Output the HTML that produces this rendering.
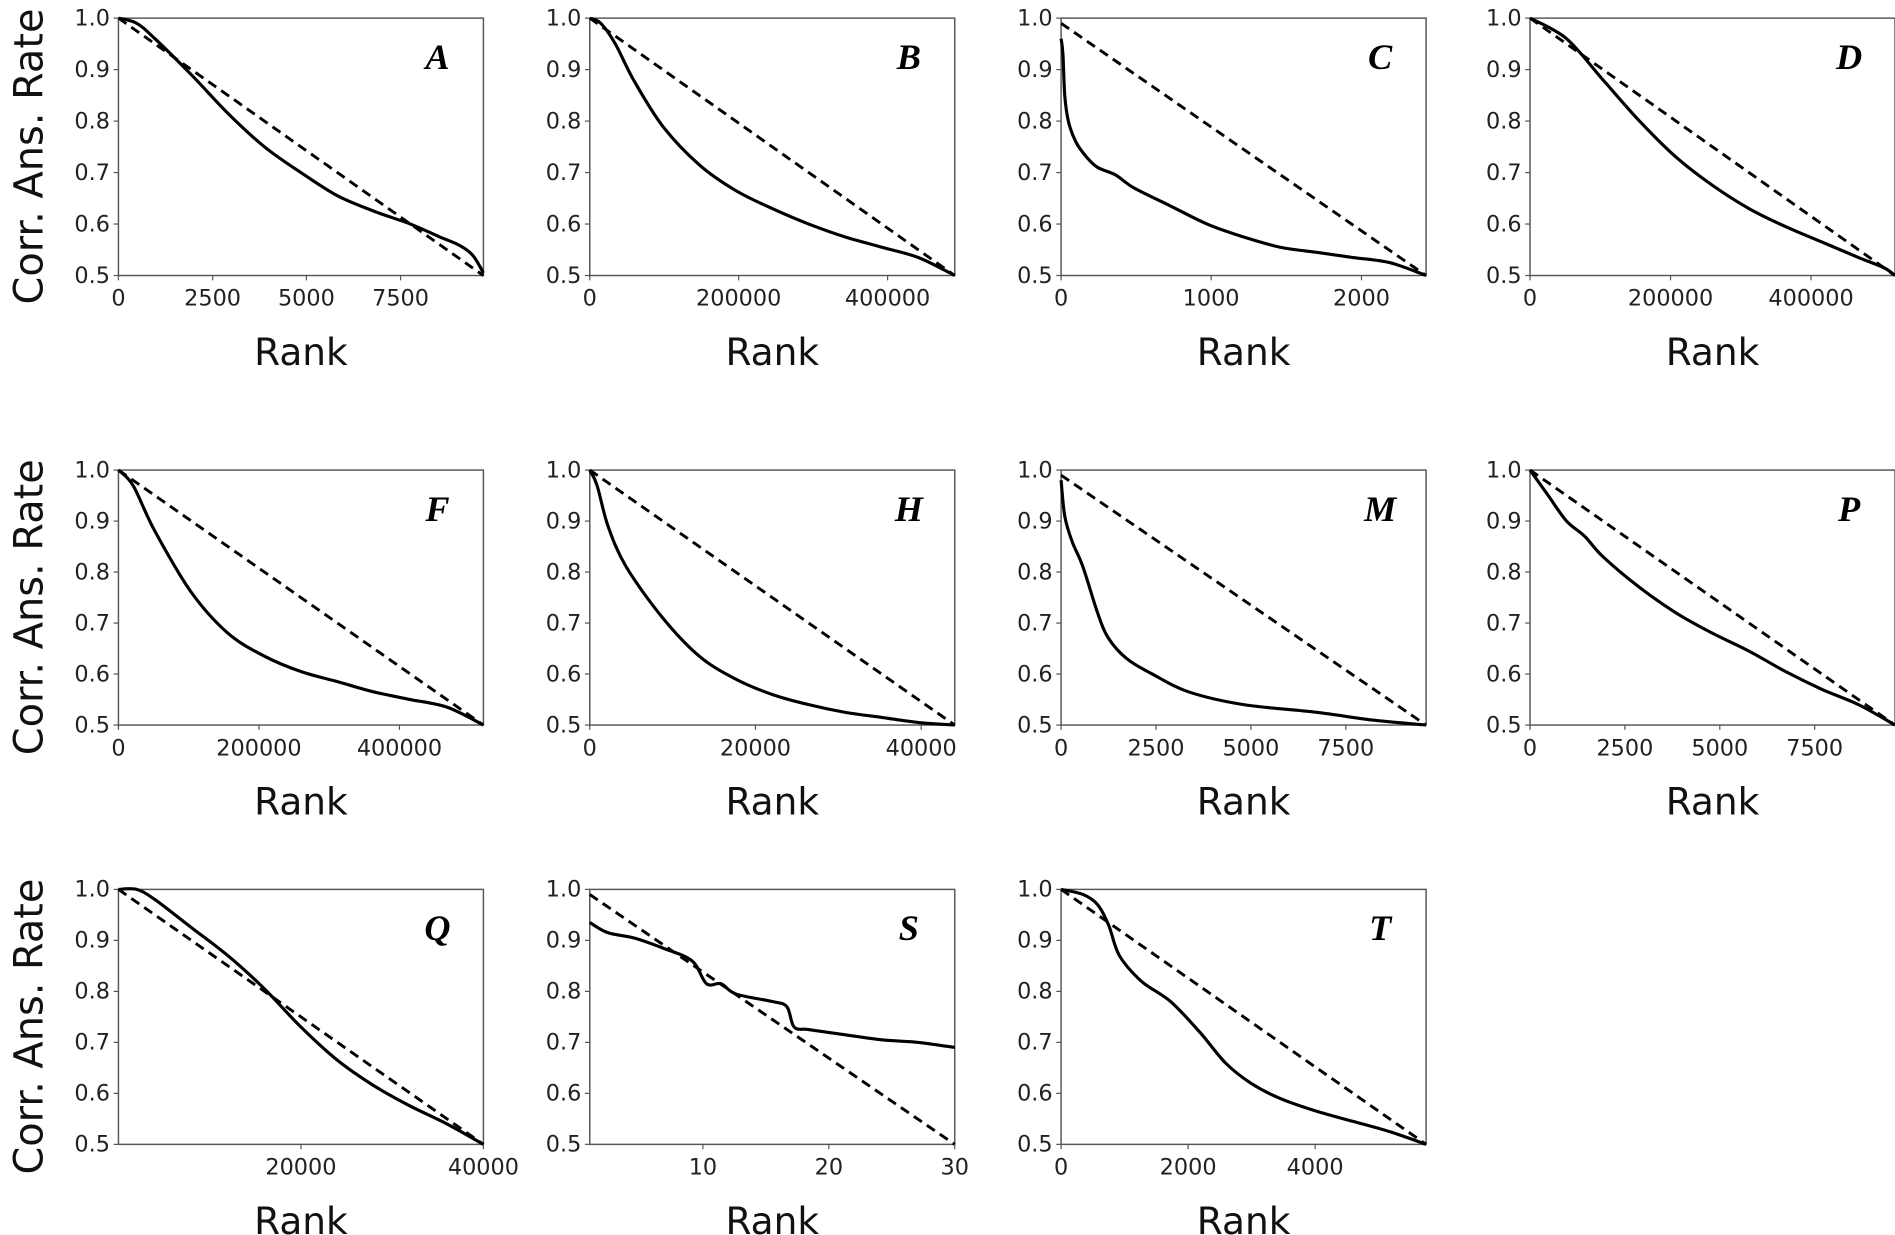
<!DOCTYPE html>
<html><head><meta charset="utf-8"><style>html,body{margin:0;padding:0;background:#fff}svg{display:block}</style></head>
<body>
<svg id="s" width="1895" height="1235" viewBox="0 0 1568 1022" preserveAspectRatio="none" xmlns="http://www.w3.org/2000/svg"></svg>
<script>
const S=document.getElementById('s');let h='';
const cols=[98,488,878,1266],W=302,rows=[[15,228],[389,600],[736,947]];
const P=[
{r:0,c:0,L:'A',t:[[0,'0'],[.258,'2500'],[.515,'5000'],[.773,'7500']],d0:1,
 p:[[0,1],[.05,.99],[.1,.96],[.2,.89],[.3,.815],[.4,.75],[.5,.70],[.6,.655],[.7,.625],[.8,.60],[.88,.575],[.93,.56],[.97,.54],[1,.505]]},
{r:0,c:1,L:'B',t:[[0,'0'],[.408,'200000'],[.816,'400000']],d0:1,
 p:[[0,1],[.03,.99],[.07,.95],[.12,.88],[.2,.79],[.3,.715],[.4,.665],[.5,.63],[.6,.6],[.7,.575],[.8,.555],[.9,.535],[1,.5]]},
{r:0,c:2,L:'C',t:[[0,'0'],[.411,'1000'],[.823,'2000']],d0:.99,
 p:[[0,.96],[.005,.93],[.01,.85],[.02,.8],[.04,.76],[.07,.73],[.1,.71],[.15,.695],[.2,.67],[.3,.635],[.4,.6],[.5,.575],[.6,.555],[.7,.545],[.8,.535],[.9,.525],[1,.5]]},
{r:0,c:3,L:'D',t:[[0,'0'],[.385,'200000'],[.77,'400000']],d0:1,
 p:[[0,1],[.1,.96],[.2,.88],[.3,.8],[.4,.73],[.5,.675],[.6,.63],[.7,.595],[.8,.565],[.9,.535],[.97,.515],[1,.5]]},
{r:1,c:0,L:'F',t:[[0,'0'],[.385,'200000'],[.77,'400000']],d0:1,
 p:[[0,1],[.04,.97],[.1,.88],[.2,.76],[.3,.68],[.4,.635],[.5,.605],[.6,.585],[.7,.565],[.8,.55],[.9,.535],[1,.5]]},
{r:1,c:1,L:'H',t:[[0,'0'],[.454,'20000'],[.908,'40000']],d0:1,
 p:[[0,1],[.02,.97],[.05,.89],[.1,.81],[.2,.71],[.3,.635],[.4,.59],[.5,.56],[.6,.54],[.7,.525],[.8,.515],[.9,.505],[1,.5]]},
{r:1,c:2,L:'M',t:[[0,'0'],[.26,'2500'],[.52,'5000'],[.78,'7500']],d0:.99,
 p:[[0,.98],[.01,.91],[.03,.86],[.06,.81],[.1,.72],[.13,.67],[.18,.63],[.25,.6],[.35,.565],[.5,.54],[.7,.525],[.85,.51],[1,.5]]},
{r:1,c:3,L:'P',t:[[0,'0'],[.26,'2500'],[.52,'5000'],[.78,'7500']],d0:1,
 p:[[0,1],[.05,.95],[.1,.9],[.15,.87],[.2,.83],[.3,.77],[.4,.72],[.5,.68],[.6,.645],[.7,.605],[.8,.57],[.9,.54],[1,.5]]},
{r:2,c:0,L:'Q',t:[[.5,'20000'],[1,'40000']],d0:1,
 p:[[0,1],[.05,1],[.1,.98],[.2,.925],[.3,.87],[.4,.805],[.5,.73],[.6,.665],[.7,.615],[.8,.575],[.9,.54],[1,.5]]},
{r:2,c:1,L:'S',t:[[.31,'10'],[.655,'20'],[1,'30']],d0:.99,
 p:[[0,.935],[.05,.915],[.12,.905],[.2,.885],[.28,.86],[.32,.815],[.36,.815],[.4,.795],[.5,.78],[.54,.77],[.56,.73],[.6,.725],[.7,.715],[.8,.705],[.9,.7],[1,.69]]},
{r:2,c:2,L:'T',t:[[0,'0'],[.348,'2000'],[.696,'4000']],d0:1,
 p:[[0,1],[.06,.99],[.1,.97],[.13,.93],[.16,.87],[.22,.82],[.3,.78],[.38,.72],[.45,.66],[.52,.62],[.6,.59],[.7,.565],[.8,.545],[.9,.525],[1,.5]]}
];
const F='font-family="DejaVu Sans, Liberation Sans, sans-serif"';
function cr(pts){let d=`M${pts[0][0].toFixed(1)},${pts[0][1].toFixed(1)}`;
 for(let i=0;i<pts.length-1;i++){const p0=pts[i-1]||pts[i],p1=pts[i],p2=pts[i+1],p3=pts[i+2]||p2;
  const c1=[p1[0]+(p2[0]-p0[0])/6,p1[1]+(p2[1]-p0[1])/6],c2=[p2[0]-(p3[0]-p1[0])/6,p2[1]-(p3[1]-p1[1])/6];
  d+=` C${c1[0].toFixed(1)},${c1[1].toFixed(1)} ${c2[0].toFixed(1)},${c2[1].toFixed(1)} ${p2[0].toFixed(1)},${p2[1].toFixed(1)}`;}
 return d;}
P.forEach(o=>{
 const x0=cols[o.c],[y0,y1]=rows[o.r],H=y1-y0;
 const X=u=>x0+u*W,Y=v=>y1-(v-.5)/.5*H;
 h+=`<rect x="${x0}" y="${y0}" width="${W}" height="${H}" fill="none" stroke="#555" stroke-width="1.2"/>`;
 for(let i=0;i<6;i++){const v=.5+i*.1,y=Y(v);h+=`<line x1="${x0-4}" x2="${x0}" y1="${y}" y2="${y}" stroke="#555"/><text x="${x0-7}" y="${y+6}" font-size="18.5" text-anchor="end" ${F} fill="#222">${v.toFixed(1)}</text>`;}
 o.t.forEach(([u,s])=>{const x=X(u);h+=`<line x1="${x}" x2="${x}" y1="${y1}" y2="${y1+4}" stroke="#555"/><text x="${x}" y="${y1+25}" font-size="18.5" text-anchor="middle" ${F} fill="#222">${s}</text>`;});
 h+=`<text x="${x0+W/2}" y="${y1+74}" font-size="31" text-anchor="middle" ${F} fill="#111">Rank</text>`;
 h+=`<line x1="${X(0)}" y1="${Y(o.d0)}" x2="${X(1)}" y2="${Y(.5)}" stroke="#000" stroke-width="2.4" stroke-dasharray="8,5"/>`;
 h+=`<path fill="none" stroke="#000" stroke-width="2.6" stroke-linejoin="round" d="${cr(o.p.map(q=>[X(q[0]),Y(q[1])]))}"/>`;
 h+=`<text x="${x0+W-38}" y="${y0+42}" font-size="30" font-weight="bold" font-style="italic" text-anchor="middle" font-family="Liberation Serif, serif">${o.L}</text>`;
});
rows.forEach(([a,b])=>{const c=(a+b)/2;h+=`<text transform="translate(35,${c+8}) rotate(-90)" font-size="33" text-anchor="middle" ${F} fill="#111">Corr. Ans. Rate</text>`;});
S.innerHTML=h;
</script>
</body></html>
